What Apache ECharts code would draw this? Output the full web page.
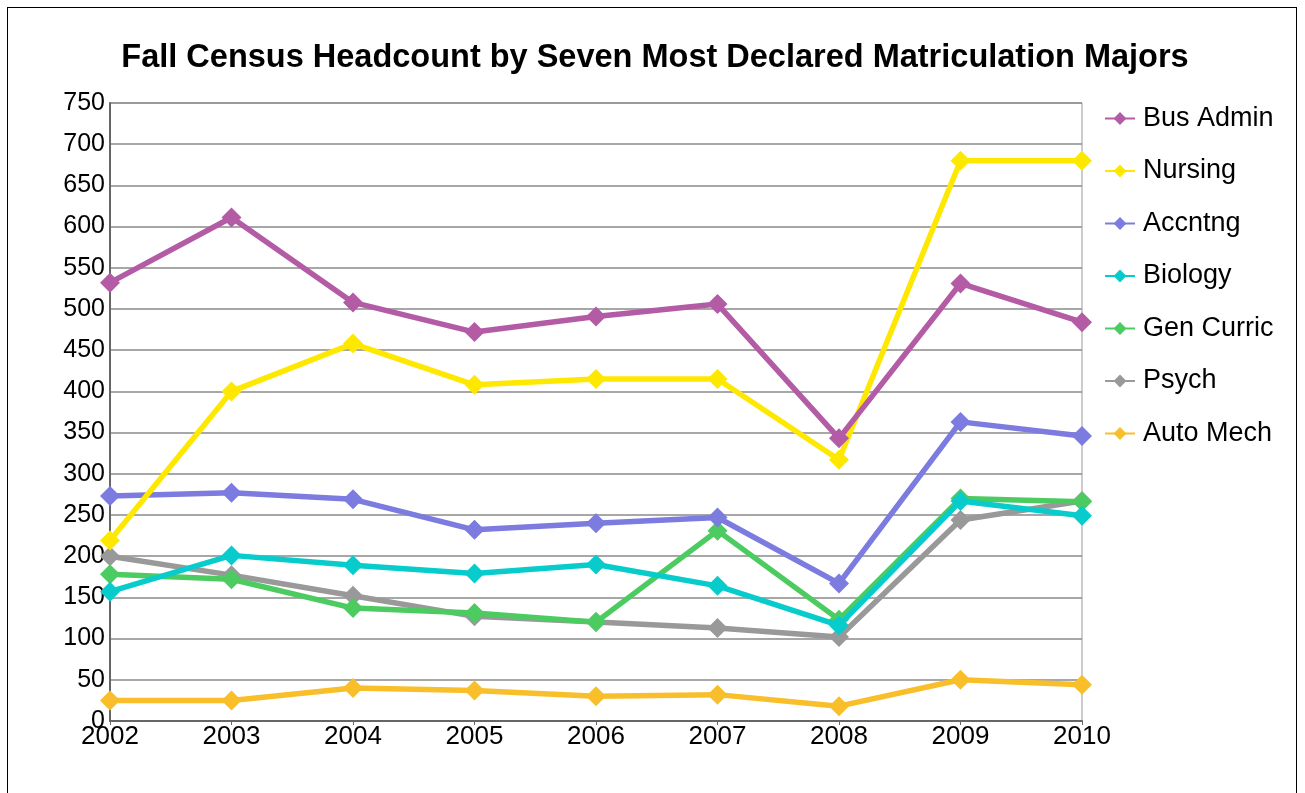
<!DOCTYPE html>
<html>
<head>
<meta charset="utf-8">
<script src="https://cdn.jsdelivr.net/npm/echarts@6/dist/echarts.min.js"></script>
<style>
html,body{margin:0;padding:0;background:#fff;}
#frame{position:absolute;left:7px;top:7px;width:1290px;height:800px;border:1px solid #000;box-sizing:border-box;}
#chart{position:absolute;left:0;top:0;width:1305px;height:793px;}
</style>
</head>
<body>
<div id="frame"></div>
<div id="chart"></div>
<script>
const years = ['2002','2003','2004','2005','2006','2007','2008','2009','2010'];
const busAdmin = [532, 611, 508, 472, 491, 506, 343, 531, 484];
const nursing  = [219, 400, 458, 408, 415, 415, 317, 680, 680];
const accntng  = [273, 277, 269, 232, 240, 247, 167, 363, 346];
const biology  = [157, 201, 189, 179, 190, 164, 116, 267, 249];
const genCurric= [178, 172, 137, 131, 120, 231, 123, 270, 266];
const psych    = [200, 177, 152, 127, 120, 113, 102, 244, 267];
const autoMech = [25, 25, 40, 37, 30, 32, 18, 50, 44];
const seriesNames = ['Bus Admin','Nursing','Accntng','Biology','Gen Curric','Psych','Auto Mech'];
const seriesData = [busAdmin, nursing, accntng, biology, genCurric, psych, autoMech];
const colors = ['#b35ca5','#ffe800','#7b7be0','#08cccc','#4ccc60','#999999','#f8bf2a'];

const chart = echarts.init(document.getElementById('chart'));
chart.setOption({
  backgroundColor: 'transparent',
  animation: false,
  title: {
    text: 'Fall Census Headcount by Seven Most Declared Matriculation Majors',
    left: 650, top: 37, textAlign: 'center',
    textStyle: {fontFamily: 'Liberation Sans', fontSize: 32.5, fontWeight: 'bold', color: '#000'}
  },
  legend: {
    orient: 'vertical',
    left: 1099, top: 100,
    itemWidth: 30, itemHeight: 16, itemGap: 25.5,
    data: seriesNames,
    textStyle: {fontFamily: 'Liberation Sans', fontSize: 27, color: '#000', lineHeight: 27, padding: [0,0,0,3]}
  },
  grid: {left: 110, top: 103, right: 223, bottom: 72, show: true, borderColor: '#999', borderWidth: 1},
  xAxis: {
    type: 'category', data: years, boundaryGap: false,
    axisLine: {lineStyle: {color: '#666', width: 2}},
    axisTick: {show: true, length: 4, lineStyle: {color: '#666'}},
    axisLabel: {fontFamily: 'Liberation Sans', fontSize: 26, color: '#000', margin: 3}
  },
  yAxis: {
    type: 'value', min: 0, max: 750, interval: 50,
    axisLine: {show: true, lineStyle: {color: '#666', width: 2}},
    axisTick: {show: false},
    splitLine: {lineStyle: {color: '#8a8a8a', width: 1.5}},
    axisLabel: {fontFamily: 'Liberation Sans', fontSize: 25, color: '#000', margin: 5}
  },
  series: seriesNames.map((n, i) => ({
    name: n, type: 'line', data: seriesData[i],
    symbol: 'diamond', symbolSize: 20, z: 10 - i,
    itemStyle: {color: colors[i]},
    lineStyle: {color: colors[i], width: 5.5}
  }))
});
</script>
</body>
</html>
